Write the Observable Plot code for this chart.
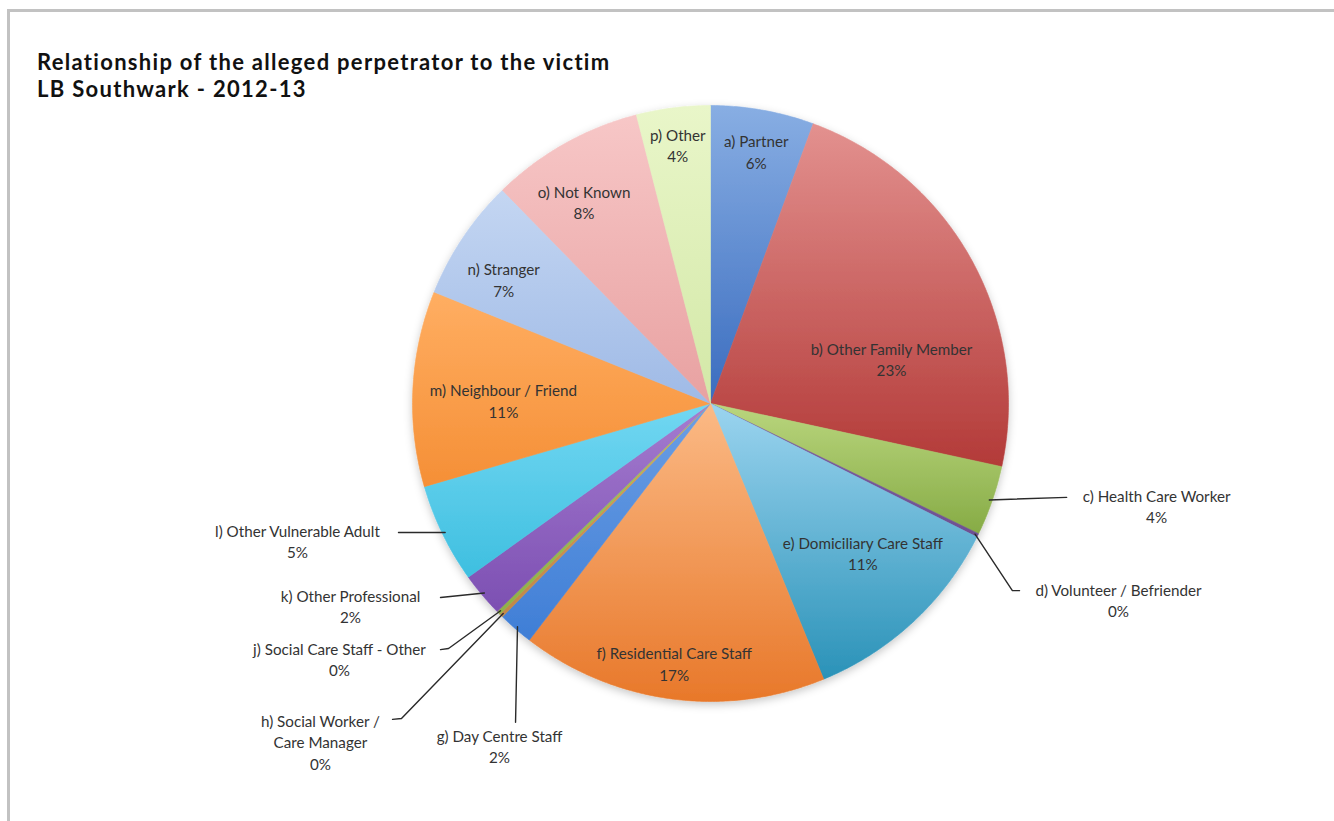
<!DOCTYPE html>
<html><head><meta charset="utf-8">
<script src="https://cdn.jsdelivr.net/npm/d3@7"></script>
<script src="https://cdn.jsdelivr.net/npm/@observablehq/plot@0.6"></script>
<style>
html,body{margin:0;background:#fff;overflow:hidden;}
#wrap{position:relative;width:1334px;height:821px;overflow:hidden;font-family:Lato,"Open Sans",sans-serif;}
#frame{position:absolute;left:7px;top:9px;width:1400px;height:900px;border-top:3px solid #c2c2c2;border-left:3px solid #c2c2c2;}
#chart{position:absolute;left:0;top:0;}
#title{position:absolute;left:37px;top:48px;font-weight:bold;font-size:22px;line-height:27px;letter-spacing:1.3px;color:#111;}
</style></head><body>
<div id="wrap"><div id="frame"></div><div id="chart"></div>
<div id="title">Relationship of the alleged perpetrator to the victim<br>LB Southwark - 2012-13</div></div>
<script>
// ---- data ----
const codes = ["a","b","c","d","e","f","g","h","j","k","l","m","n","o","p"];
const names = ["Partner","Other Family Member","Health Care Worker","Volunteer / Befriender","Domiciliary Care Staff","Residential Care Staff","Day Centre Staff","Social Worker /\nCare Manager","Social Care Staff - Other","Other Professional","Other Vulnerable Adult","Neighbour / Friend","Stranger","Not Known","Other"];
const values = [5.6,22.8,3.8,0.2,11.4,16.6,1.9,0.2,0.2,2.4,5.4,10.6,6.6,8.3,4.0];
const topColors = ["#88aee3","#e3918f","#bad67e","#7c5ea0","#9bd4ef","#fbba86","#6c9fe4","#d8a060","#a8c860","#a57cd0","#72d7f2","#ffae62","#c4d6f2","#f7c7c7","#e9f6c9"];
const bottomColors = ["#3a6cbf","#b33a38","#86ab45","#6e5092","#2a92b8","#e8782a","#3f7ed6","#c08848","#90b048","#7c4fb2","#3ebfe0","#f58f36","#9fbae6","#e8a1a1","#d3e8a7"];

// ---- layout (label placement, in units of pie radius) ----
const inside = {a:{da:0.2,r:0.86}, b:{da:14.8,r:0.626}, e:{da:-2.8,r:0.715}, f:{da:0.4,r:0.88},
                m:{da:-1.9,r:0.695}, n:{da:-2.8,r:0.81}, o:{da:-2.7,r:0.80}, p:{da:0,r:0.876}};
const outside = {
  c:{tx:1.497,ty:-0.342, path:[[1.195,-0.315]]},
  d:{tx:1.369,ty:-0.658, path:[[1.013,-0.628],[1.037,-0.628]]},
  g:{tx:-0.708,ty:-1.148, path:[["v",-1.070]]},
  h:{tx:-1.309,ty:-1.134, path:[[-1.037,-1.057],[-1.067,-1.060]]},
  j:{tx:-1.245,ty:-0.856, path:[[-0.879,-0.822],[-0.906,-0.826]]},
  k:{tx:-1.208,ty:-0.678, path:[[-0.906,-0.651]]},
  l:{tx:-1.386,ty:-0.460, path:[[-1.047,-0.433]]}
};

const total = d3.sum(values);
const rad = a => a*Math.PI/180;
let acc = 0;
const slices = values.map((v,i)=>{
  const s = acc/total*360; acc += v; const e = acc/total*360;
  return {i, key:codes[i], s, e, mid:(s+e)/2, label:`${codes[i]}) ${names[i]}\n${Math.round(v/total*100)}%`};
});
const slicePts = [];
for (const sl of slices) {
  const n = Math.max(2, Math.ceil((sl.e-sl.s)/0.5));
  slicePts.push({key:sl.key, x:0, y:0, g:`url(#g${sl.i})`});
  for (let k=0;k<=n;k++){ const t = rad(sl.s+(sl.e-sl.s)*k/n); slicePts.push({key:sl.key, x:Math.sin(t), y:Math.cos(t), g:`url(#g${sl.i})`}); }
  slicePts.push({key:sl.key, x:0, y:0, g:`url(#g${sl.i})`});
}
const labels = [], leaders = [];
for (const sl of slices) {
  if (inside[sl.key]) {
    const L = inside[sl.key], t = rad(sl.mid+L.da);
    labels.push({x:L.r*Math.sin(t), y:L.r*Math.cos(t), text:sl.label});
  } else if (outside[sl.key]) {
    const O = outside[sl.key], t = rad(sl.mid);
    const x0 = Math.sin(t), y0 = Math.cos(t);
    leaders.push({key:sl.key, x:x0*0.99, y:y0*0.99});
    for (const p of O.path) leaders.push(p[0]==="v" ? {key:sl.key, x:x0, y:p[1]} : {key:sl.key, x:p[0], y:p[1]});
    labels.push({x:O.tx, y:O.ty, text:sl.label});
  }
}

const cx=710, cy=403, R=298;
const chart = Plot.plot({
  width:1334, height:821, margin:0,
  x:{domain:[-1,1], range:[cx-R,cx+R], axis:null},
  y:{domain:[-1,1], range:[cy+R,cy-R], axis:null},
  color:{type:"identity"},
  style:{fontFamily:"Lato, 'Open Sans', sans-serif", fontSize:"15.2px", background:"transparent", overflow:"visible"},
  marks:[
    Plot.line(slicePts, {x:"x", y:"y", z:"key", fill:"g", stroke:"g", strokeWidth:0.6, curve:"linear"}),
    Plot.line(leaders, {x:"x", y:"y", z:"key", stroke:"#2a2a2a", strokeWidth:1.4}),
    Plot.text(labels, {x:"x", y:"y", text:"text", fill:"#333", lineHeight:1.41, textAnchor:"middle"})
  ]
});
const ns = "http://www.w3.org/2000/svg";
const defs = document.createElementNS(ns,"defs");
values.forEach((v,i)=>{
  const g = document.createElementNS(ns,"linearGradient");
  g.setAttribute("id","g"+i); g.setAttribute("x1","0"); g.setAttribute("y1","0"); g.setAttribute("x2","0"); g.setAttribute("y2","1");
  [[0,topColors[i]],[1,bottomColors[i]]].forEach(([o,c])=>{
    const st = document.createElementNS(ns,"stop"); st.setAttribute("offset",o); st.setAttribute("stop-color",c); g.appendChild(st);
  });
  defs.appendChild(g);
});
const f = document.createElementNS(ns,"filter");
f.setAttribute("id","shadow"); f.setAttribute("x","-10%"); f.setAttribute("y","-10%"); f.setAttribute("width","120%"); f.setAttribute("height","125%");
const ds = document.createElementNS(ns,"feDropShadow");
ds.setAttribute("dx","0"); ds.setAttribute("dy","3"); ds.setAttribute("stdDeviation","4"); ds.setAttribute("flood-color","#000"); ds.setAttribute("flood-opacity","0.22");
f.appendChild(ds); defs.appendChild(f);
chart.insertBefore(defs, chart.firstChild);
const sliceGroup = chart.querySelector('g[aria-label="line"]');
if (sliceGroup) sliceGroup.setAttribute("filter","url(#shadow)");
document.getElementById("chart").appendChild(chart);
</script>
</body></html>
